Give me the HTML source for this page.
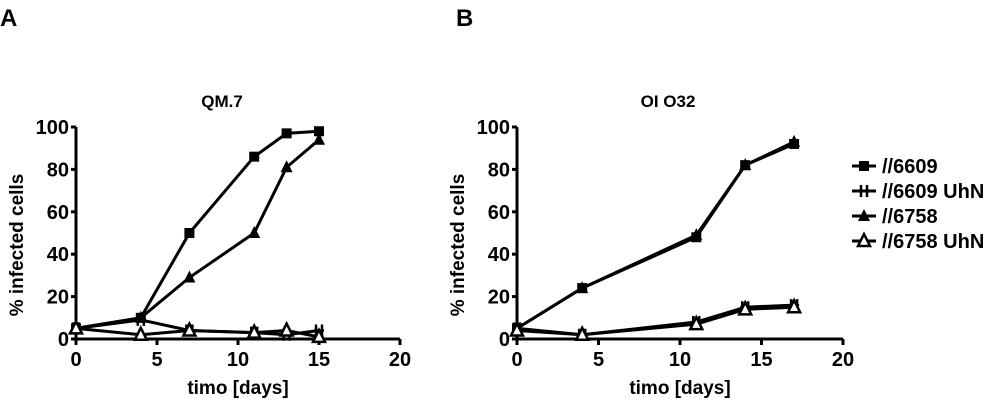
<!DOCTYPE html>
<html><head><meta charset="utf-8">
<style>
html,body{margin:0;padding:0;background:#fff;}
svg{display:block;font-family:"Liberation Sans",Arial,sans-serif;font-weight:bold;}
</style></head>
<body>
<svg id="chart" width="1000" height="400" viewBox="0 0 1000 400" xmlns="http://www.w3.org/2000/svg">
<text x="0" y="26" font-size="24">A</text>
<text x="456" y="26" font-size="24">B</text>
<text x="222" y="107" font-size="17" text-anchor="middle">QM.7</text>
<text x="668" y="107" font-size="17" text-anchor="middle">OI O32</text>
<g id="pa"></g>
<g id="pb"></g>
<g id="legend"></g>
</svg>
<script>
const xTicks=[0,5,10,15,20];
const yTicks=[0,20,40,60,80,100];
const seriesNames=["//6609","//6609 UhN","//6758","//6758 UhN"];
const seriesMarkers=["square","cross","tri","opentri"];
const daysA=[0,4,7,11,13,15];
const a6609=[5,10,50,86,97,98];
const a6609u=[5,9,4,3,2,4];
const a6758=[5,10,29,50,81,94];
const a6758u=[5,2,4,3,4,1];
const daysB=[0,4,11,14,17];
const b6609=[5,24,48,82,92];
const b6609u=[5,2,8,15,16];
const b6758=[5,24,49,82,93];
const b6758u=[4,2,7,14,15];

const NS="http://www.w3.org/2000/svg";
function mk(t,at,p){const e=document.createElementNS(NS,t);for(const k in at)e.setAttribute(k,at[k]);p.appendChild(e);return e;}
function marker(g,type,x,y){
  let e;
  if(type==="square"){e=mk("rect",{x:x-5,y:y-5,width:10,height:10,fill:"#000"},g);}
  else if(type==="cross"){e=mk("path",{d:`M${x-5} ${y}H${x+5}M${x-3} ${y-6}V${y+6}M${x+3} ${y-6}V${y+6}`,stroke:"#000","stroke-width":2.5,fill:"none"},g);}
  else if(type==="tri"){e=mk("path",{d:`M${x} ${y-7}L${x+6} ${y+5}L${x-6} ${y+5}Z`,fill:"#000"},g);}
  else {e=mk("path",{d:`M${x} ${y-7}L${x+6} ${y+5}L${x-6} ${y+5}Z`,fill:"#fff",stroke:"#000","stroke-width":2.5},g);}
  
  
}
function panel(g,x0,x1,days,series){
  const y0=339,y1=127;
  const sx=v=>x0+(x1-x0)*v/20, sy=v=>y0-(y0-y1)*v/100;
  const ax=mk("path",{d:`M${sx(0)} ${y1}V${y0}M${sx(0)-5} ${y0}H${x1}`,stroke:"#000","stroke-width":3,fill:"none"},g);
  
  
  xTicks.forEach(t=>{
    const l=mk("line",{x1:sx(t),x2:sx(t),y1:y0,y2:y0+6,stroke:"#000","stroke-width":3},g);
    
    
    const tx=mk("text",{x:sx(t),y:y0+27,"font-size":20,"text-anchor":"middle"},g);tx.textContent=t;
    
    
  });
  yTicks.forEach(t=>{
    const l=mk("line",{x1:sx(0)-5,x2:sx(0),y1:sy(t),y2:sy(t),stroke:"#000","stroke-width":3},g);
    
    
    const tx=mk("text",{x:sx(0)-7,y:sy(t)+7,"font-size":20,"text-anchor":"end"},g);tx.textContent=t;
    
    
  });
  const xt=mk("text",{x:(sx(0)+x1)/2,y:y0+55,"font-size":19,"text-anchor":"middle"},g);xt.textContent="timo [days]";
  
  
  const yt=mk("text",{x:0,y:0,"font-size":19,"text-anchor":"middle",transform:`translate(${sx(0)-53},${(y0+y1)/2+12}) rotate(-90)`},g);yt.textContent="% infected cells";
  
  
  series.forEach((s,i)=>{
    const pts=days.map((d,j)=>[sx(d),sy(s[j])]);
    const pl=mk("polyline",{points:pts.map(p=>p.join(",")).join(" "),fill:"none",stroke:"#000","stroke-width":3},g);
    
    
    pts.forEach(p=>marker(g,seriesMarkers[i],p[0],p[1]));
  });
}
panel(document.getElementById("pa"),76,400,daysA,[a6609,a6609u,a6758,a6758u]);
panel(document.getElementById("pb"),517,843,daysB,[b6609,b6609u,b6758,b6758u]);
const lg=document.getElementById("legend");
seriesNames.forEach((n,i)=>{
  const y=166+i*25;
  const ln=mk("line",{x1:852,x2:876,y1:y,y2:y,stroke:"#000","stroke-width":3},lg);
  
  
  marker(lg,seriesMarkers[i],864,y);
  const t=mk("text",{x:882,y:y+7,"font-size":20},lg);t.textContent=n;
  
  
});
</script>
</body></html>
